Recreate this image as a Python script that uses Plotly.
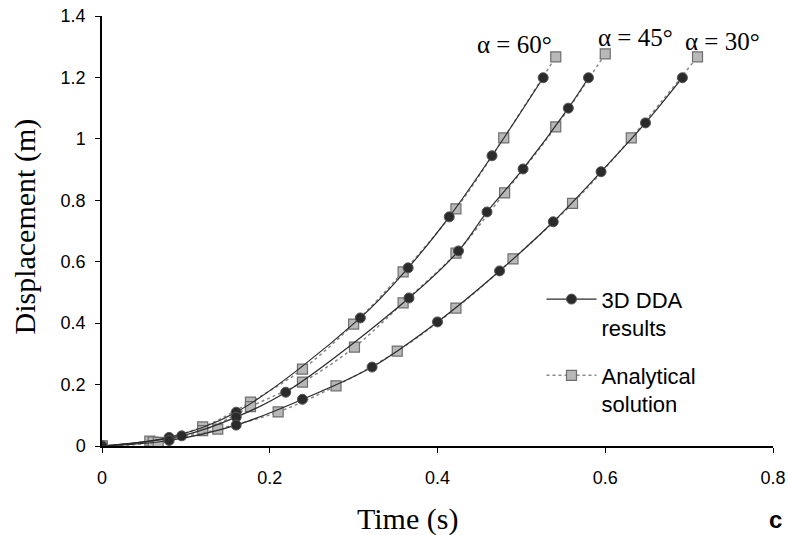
import plotly.graph_objects as go

# ---- data ----
t_dda_60 = [0.0, 0.08, 0.16, 0.308, 0.365, 0.414, 0.465, 0.526]
d_dda_60 = [0.0, 0.028, 0.11, 0.417, 0.58, 0.746, 0.945, 1.199]

t_dda_45 = [0.0, 0.095, 0.16, 0.219, 0.366, 0.425, 0.459, 0.502, 0.556, 0.58]
d_dda_45 = [0.0, 0.033, 0.094, 0.175, 0.482, 0.635, 0.762, 0.902, 1.10, 1.199]

t_dda_30 = [0.0, 0.08, 0.16, 0.239, 0.322, 0.40, 0.474, 0.538, 0.595, 0.648, 0.692]
d_dda_30 = [0.0, 0.018, 0.068, 0.152, 0.257, 0.404, 0.57, 0.73, 0.893, 1.052, 1.199]

t_an_60 = [0.0, 0.057, 0.12, 0.177, 0.239, 0.300, 0.359, 0.422, 0.479, 0.541]
d_an_60 = [0.0, 0.016, 0.062, 0.143, 0.25, 0.397, 0.567, 0.772, 1.003, 1.267]

t_an_45 = [0.0, 0.061, 0.12, 0.177, 0.239, 0.301, 0.359, 0.422, 0.48, 0.541, 0.60]
d_an_45 = [0.0, 0.013, 0.05, 0.128, 0.208, 0.322, 0.466, 0.628, 0.824, 1.039, 1.277]

t_an_30 = [0.0, 0.067, 0.138, 0.21, 0.279, 0.352, 0.422, 0.49, 0.561, 0.631, 0.71]
d_an_30 = [0.0, 0.012, 0.055, 0.111, 0.196, 0.309, 0.449, 0.609, 0.79, 1.003, 1.267]

angle_labels = ["α = 60°", "α = 45°", "α = 30°"]
label_x = [0.492, 0.636, 0.74]
label_y = [1.306, 1.329, 1.316]

x_ticks = [0, 0.2, 0.4, 0.6, 0.8]
y_ticks = [0, 0.2, 0.4, 0.6, 0.8, 1.0, 1.2, 1.4]

fig = go.Figure()

an_sets = [(t_an_60, d_an_60), (t_an_45, d_an_45), (t_an_30, d_an_30)]
dda_sets = [(t_dda_60, d_dda_60), (t_dda_45, d_dda_45), (t_dda_30, d_dda_30)]

for i, (tx, dy) in enumerate(an_sets):
    fig.add_trace(go.Scatter(
        x=tx, y=dy, mode="lines+markers",
        name="Analytical<br>solution", legendgroup="an", showlegend=(i == 0),
        legendrank=2,
        line=dict(color="#8a8a8a", width=1.5, dash="dot", shape="spline"),
        marker=dict(symbol="square", size=10, color="#b8b8b8",
                    line=dict(color="#6e6e6e", width=1.2)),
    ))

for i, (tx, dy) in enumerate(dda_sets):
    fig.add_trace(go.Scatter(
        x=tx, y=dy, mode="lines+markers",
        name="3D DDA<br>results", legendgroup="dda", showlegend=(i == 0),
        legendrank=1,
        line=dict(color="#2a2a2a", width=1.2, shape="spline"),
        marker=dict(symbol="circle", size=10, color="#2b2b2b",
                    line=dict(color="#555555", width=1)),
    ))

for txt, lx, ly in zip(angle_labels, label_x, label_y):
    fig.add_annotation(x=lx, y=ly, text=txt, showarrow=False,
                       font=dict(family="Liberation Serif", size=25, color="black"),
                       xanchor="center", yanchor="middle")

# axis titles
fig.add_annotation(x=0.455, y=-0.17, xref="paper", yref="paper", text="Time (s)",
                   showarrow=False, xanchor="center", yanchor="middle",
                   font=dict(family="Liberation Serif", size=30, color="black"))
fig.add_annotation(x=-0.115, y=0.51, xref="paper", yref="paper", text="Displacement (m)",
                   showarrow=False, xanchor="center", yanchor="middle", textangle=-90,
                   font=dict(family="Liberation Serif", size=30, color="black"))

fig.add_annotation(x=1.004, y=-0.172, xref="paper", yref="paper", text="<b>c</b>",
                   showarrow=False, xanchor="center", yanchor="middle",
                   font=dict(family="Liberation Sans", size=24, color="black"))

fig.update_layout(
    width=788, height=535,
    margin=dict(l=102, r=15, t=16, b=89),
    paper_bgcolor="white", plot_bgcolor="white",
    showlegend=True,
    legend=dict(x=0.655, y=0.39, xanchor="left", yanchor="top",
                traceorder="grouped", bgcolor="rgba(0,0,0,0)", valign="top",
                font=dict(family="Liberation Sans", size=22, color="black"),
                itemwidth=50, tracegroupgap=16),
    xaxis=dict(range=[0, 0.8], tickvals=x_ticks, ticktext=[f"{v:g}" for v in x_ticks],
               automargin=False,
               showgrid=False, zeroline=False, showline=True, linecolor="black", linewidth=1.5,
               ticks="outside", ticklen=5, tickcolor="black", ticklabelstandoff=10,
               tickfont=dict(family="Liberation Sans", size=18, color="black")),
    yaxis=dict(range=[0, 1.4], tickvals=y_ticks, ticktext=[f"{v:g}" for v in y_ticks],
               automargin=False,
               showgrid=False, zeroline=False, showline=True, linecolor="black", linewidth=1.5,
               ticks="outside", ticklen=5, tickcolor="black", ticklabelstandoff=6,
               tickfont=dict(family="Liberation Sans", size=18, color="black")),
)

fig.write_html("out.html", config={"displayModeBar": False},
               post_script="document.body.style.margin='0';document.body.style.overflow='hidden';")
